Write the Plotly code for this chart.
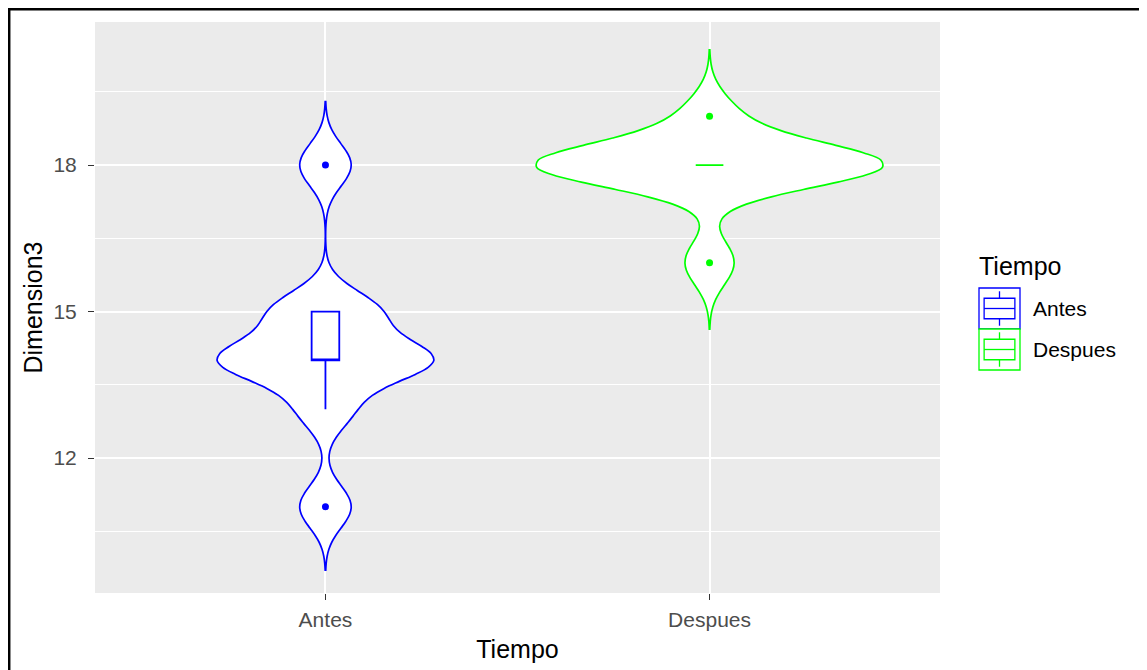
import numpy as np
import plotly.graph_objects as go

# ---------------- data ----------------
categories = ["Antes", "Despues"]
antes_values = [11, 13, 14, 14, 14, 14, 15, 15, 18]
despues_values = [16, 18, 18, 18, 18, 18, 18, 18, 19]
series_values = [antes_values, despues_values]
series_colors = ["#0000FF", "#00FF00"]
y_tick_values = [12, 15, 18]
y_tick_labels = ["12", "15", "18"]
y_minor_values = [10.5, 13.5, 16.5, 19.5]
legend_title = "Tiempo"
x_title = "Tiempo"
y_title = "Dimension3"

# ---------------- geometry (page pixels) ----------------
W, H = 1147, 670
OFF = 8                      # the page body margin that offsets the plot div
PX0, PX1, PY0, PY1 = 95, 940, 22, 593   # panel edges on the page
L, T = PX0 - OFF, PY0 - OFF
R, B = W - PX1, H - PY1
FONT = "Liberation Sans, Arial, sans-serif"


def px2x(px):
    return (px - PX0) / (PX1 - PX0)


def px2y(py):
    return (PY1 - py) / (PY1 - PY0)


def nrd0(v):
    """R's default bandwidth (bw.nrd0), as used by ggplot2's geom_violin."""
    v = np.asarray(v, float)
    hi = v.std(ddof=1)
    q75, q25 = np.percentile(v, [75, 25])
    lo = min(hi, (q75 - q25) / 1.34)
    if not lo:
        lo = hi or abs(v[0]) or 1.0
    return 0.9 * lo * len(v) ** -0.2


fig = go.Figure()
for cat, vals, col in zip(categories, series_values, series_colors):
    bw = nrd0(vals)
    fig.add_trace(go.Violin(
        x=[cat] * len(vals), y=vals, name=cat,
        line=dict(color=col, width=1.7), fillcolor="white", opacity=1,
        bandwidth=bw, spanmode="manual", span=[min(vals) - 3 * bw, max(vals) + 3 * bw],
        scalegroup="Tiempo", scalemode="width",
        quartilemethod="inclusive",
        points="outliers", pointpos=0, jitter=0,
        marker=dict(color=col, size=7, line=dict(width=0)),
        box=dict(visible=True, width=0.08, fillcolor="white",
                 line=dict(color=col, width=1.8)),
        meanline=dict(visible=False), showlegend=False, hoverinfo="skip",
    ))

# ---------------- legend (ggplot-style keys) ----------------
shapes = []
annotations = []
key = 41
kx0, ky0 = 979, 288
for i, (cat, col) in enumerate(zip(categories, series_colors)):
    y0 = ky0 + key * i
    shapes.append(dict(type="rect", xref="paper", yref="paper",
                       x0=px2x(kx0), x1=px2x(kx0 + key), y0=px2y(y0), y1=px2y(y0 + key),
                       line=dict(color=col, width=1.3), fillcolor="white", layer="above"))
    shapes.append(dict(type="rect", xref="paper", yref="paper",
                       x0=px2x(kx0 + 0.125 * key), x1=px2x(kx0 + 0.875 * key),
                       y0=px2y(y0 + 0.25 * key), y1=px2y(y0 + 0.75 * key),
                       line=dict(color=col, width=1.3), fillcolor="white", layer="above"))
    shapes.append(dict(type="line", xref="paper", yref="paper",
                       x0=px2x(kx0 + 0.125 * key), x1=px2x(kx0 + 0.875 * key),
                       y0=px2y(y0 + 0.5 * key), y1=px2y(y0 + 0.5 * key),
                       line=dict(color=col, width=1.3), layer="above"))
    for a, b in [(0.08, 0.25), (0.75, 0.92)]:
        shapes.append(dict(type="line", xref="paper", yref="paper",
                           x0=px2x(kx0 + 0.5 * key), x1=px2x(kx0 + 0.5 * key),
                           y0=px2y(y0 + a * key), y1=px2y(y0 + b * key),
                           line=dict(color=col, width=1.3), layer="above"))
    annotations.append(dict(text=cat, xref="paper", yref="paper",
                            x=px2x(1031), y=px2y(y0 + 0.5 * key), xanchor="left", yanchor="middle",
                            showarrow=False, font=dict(family=FONT, size=21, color="black")))
annotations.append(dict(text=legend_title, xref="paper", yref="paper",
                        x=px2x(977), y=px2y(266), xanchor="left", yanchor="middle",
                        showarrow=False, font=dict(family=FONT, size=25, color="black")))

# frame around the picture (as in the screenshot)
shapes.append(dict(type="line", xref="paper", yref="paper",
                   x0=px2x(9.2), x1=px2x(9.2), y0=px2y(8), y1=px2y(H + 5),
                   line=dict(color="black", width=2.5), layer="above"))
shapes.append(dict(type="line", xref="paper", yref="paper",
                   x0=px2x(8), x1=px2x(W + 5), y0=px2y(9.2), y1=px2y(9.2),
                   line=dict(color="black", width=2.5), layer="above"))

fig.update_layout(
    width=W - OFF, height=H - OFF,
    margin=dict(l=L, r=R, t=T, b=B, autoexpand=False),
    paper_bgcolor="white", plot_bgcolor="#EBEBEB",
    violinmode="overlay", violingap=0.1, violingroupgap=0,
    showlegend=False,
    font=dict(family=FONT),
    shapes=shapes, annotations=annotations,
    xaxis=dict(type="category", categoryorder="array", categoryarray=categories,
               range=[-0.6, 1.6], showgrid=True, gridcolor="white", gridwidth=1.5,
               zeroline=False, showline=False,
               ticks="outside", ticklen=6, tickwidth=1, tickcolor="#333333",
               ticklabelstandoff=2,
               tickfont=dict(family=FONT, size=21, color="#4D4D4D"),
               title=dict(text=x_title, font=dict(family=FONT, size=25, color="black"), standoff=10)),
    yaxis=dict(range=[9.235, 20.93], tickmode="array", tickvals=y_tick_values, ticktext=y_tick_labels,
               showgrid=True, gridcolor="white", gridwidth=1.5, zeroline=False, showline=False,
               ticks="outside", ticklen=6, tickwidth=1, tickcolor="#333333",
               ticklabelstandoff=7,
               tickfont=dict(family=FONT, size=21, color="#4D4D4D"),
               minor=dict(tickvals=y_minor_values, showgrid=True, gridcolor="white", gridwidth=0.7, ticks=""),
               title=dict(text=y_title, font=dict(family=FONT, size=25, color="black"), standoff=3)),
)

fig.write_html("out.html")
